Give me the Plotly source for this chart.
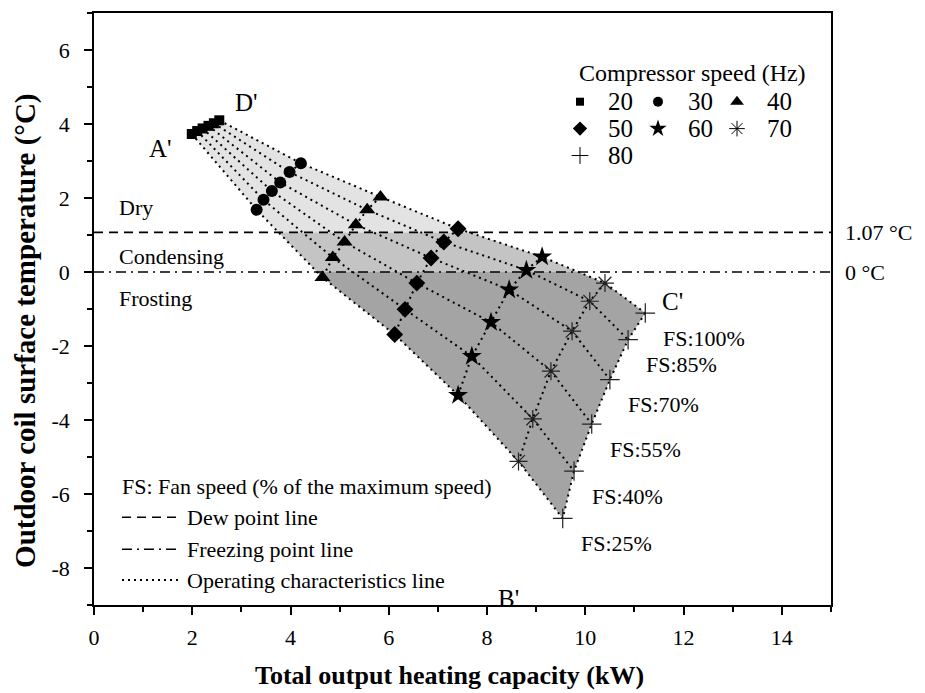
import plotly.graph_objects as go

# ---------------- data ----------------
COMP_SPEEDS = [20, 30, 40, 50, 60, 70, 80]          # Hz
FAN_LABELS = ["FS:100%", "FS:85%", "FS:70%", "FS:55%", "FS:40%", "FS:25%"]

# Total output heating capacity (kW) at each compressor speed, ordered FS:100% -> FS:25%
cap_20 = [2.55, 2.44, 2.33, 2.21, 2.10, 1.99]
cap_30 = [4.21, 3.98, 3.79, 3.62, 3.45, 3.31]
cap_40 = [5.83, 5.56, 5.33, 5.10, 4.86, 4.65]
cap_50 = [7.41, 7.12, 6.86, 6.57, 6.33, 6.12]
cap_60 = [9.12, 8.80, 8.45, 8.08, 7.69, 7.41]
cap_70 = [10.40, 10.09, 9.73, 9.30, 8.93, 8.64]
cap_80 = [11.22, 10.87, 10.50, 10.13, 9.77, 9.54]

# Outdoor coil surface temperature (deg C), same ordering
tmp_20 = [4.10, 4.02, 3.95, 3.88, 3.81, 3.73]
tmp_30 = [2.94, 2.70, 2.42, 2.19, 1.95, 1.68]
tmp_40 = [2.03, 1.68, 1.28, 0.81, 0.39, -0.15]
tmp_50 = [1.17, 0.81, 0.38, -0.30, -1.01, -1.69]
tmp_60 = [0.41, 0.05, -0.48, -1.36, -2.28, -3.33]
tmp_70 = [-0.30, -0.79, -1.60, -2.68, -3.97, -5.12]
tmp_80 = [-1.11, -1.83, -2.91, -4.11, -5.38, -6.66]

DEW_POINT = 1.07
FREEZE_POINT = 0.0

X_RANGE = [0, 15]
Y_RANGE = [-9, 7]
X_TICKS = [0, 2, 4, 6, 8, 10, 12, 14]
Y_TICKS = [-8, -6, -4, -2, 0, 2, 4, 6]

caps = [cap_20, cap_30, cap_40, cap_50, cap_60, cap_70, cap_80]
tmps = [tmp_20, tmp_30, tmp_40, tmp_50, tmp_60, tmp_70, tmp_80]

SYMBOLS = ["square", "circle", "triangle-up", "diamond", "star", "asterisk-open", "cross-thin-open"]
SIZES = [10, 12, 14, 13, 15, 15, 14]

FONT = "Liberation Serif"
W, H = 925, 693
M = dict(l=94, r=94, t=11, b=88)
PW = W - M["l"] - M["r"]
PH = H - M["t"] - M["b"]


def paper(px, py):
    """Page pixel position -> paper fraction."""
    return (px - M["l"]) / PW, (H - M["b"] - py) / PH


def clip_band(xs, ys, lo, hi):
    """Clip a closed polygon to the horizontal band lo <= y <= hi."""
    pts = list(zip(xs, ys))

    def clip(pts, inside, ycut):
        out = []
        n = len(pts)
        for i in range(n):
            p, q = pts[i], pts[(i + 1) % n]
            pin, qin = inside(p[1]), inside(q[1])
            if pin:
                out.append(p)
            if pin != qin:
                t = (ycut - p[1]) / (q[1] - p[1])
                out.append((p[0] + t * (q[0] - p[0]), ycut))
        return out

    pts = clip(pts, lambda y: y >= lo, lo)
    pts = clip(pts, lambda y: y <= hi, hi)
    return [p[0] for p in pts], [p[1] for p in pts]


fig = go.Figure()

# ---------------- operating envelope A'-B'-C'-D' ----------------
env_x = [c[-1] for c in caps] + cap_80[::-1][1:] + [c[0] for c in caps][::-1][1:] + cap_20[1:]
env_y = [t[-1] for t in tmps] + tmp_80[::-1][1:] + [t[0] for t in tmps][::-1][1:] + tmp_20[1:]

bands = [
    (DEW_POINT, Y_RANGE[1], "#e3e3e3"),
    (FREEZE_POINT, DEW_POINT, "#c4c4c4"),
    (Y_RANGE[0], FREEZE_POINT, "#a4a4a4"),
]
for lo, hi, col in bands:
    bx, by = clip_band(env_x, env_y, lo, hi)
    fig.add_trace(go.Scatter(x=bx, y=by, mode="lines", fill="toself", fillcolor=col,
                             line=dict(width=0), hoverinfo="skip", showlegend=False))

DASH = "9px,6px"
DASHDOT = "10px,5px,2px,5px"
DOT = "2px,4px"

# dew point and freezing point lines
fig.add_trace(go.Scatter(x=X_RANGE, y=[DEW_POINT, DEW_POINT], mode="lines",
                         line=dict(color="black", width=1.6, dash=DASH),
                         hoverinfo="skip", showlegend=False, cliponaxis=False))
fig.add_trace(go.Scatter(x=X_RANGE, y=[FREEZE_POINT, FREEZE_POINT], mode="lines",
                         line=dict(color="black", width=1.6, dash=DASHDOT),
                         hoverinfo="skip", showlegend=False, cliponaxis=False))

# operating characteristic lines: constant fan speed
for i in range(len(FAN_LABELS)):
    fig.add_trace(go.Scatter(x=[c[i] for c in caps], y=[t[i] for t in tmps], mode="lines",
                             line=dict(color="black", width=2, dash=DOT),
                             hoverinfo="skip", showlegend=False))
# operating characteristic lines: constant compressor speed
for c, t in zip(caps, tmps):
    fig.add_trace(go.Scatter(x=c, y=t, mode="lines",
                             line=dict(color="black", width=2, dash=DOT),
                             hoverinfo="skip", showlegend=False))

# markers per compressor speed
for hz, c, t, sym, sz in zip(COMP_SPEEDS, caps, tmps, SYMBOLS, SIZES):
    open_sym = sym.endswith("open")
    fig.add_trace(go.Scatter(
        x=c, y=t, mode="markers", name=f"{hz} Hz", showlegend=False,
        marker=dict(symbol=sym, size=sz, color="black" if not open_sym else "#222222",
                    line=dict(width=1.2 if open_sym else 0, color="#222222")),
    ))

# ---------------- custom legends (overlay axis in paper units) ----------------
leg_sym_x = [580, 658, 737]
leg_txt_x = [606, 686, 765]
leg_row_y = [100, 127, 154]
for k, (hz, sym, sz) in enumerate(zip(COMP_SPEEDS, SYMBOLS, SIZES)):
    r, col = divmod(k, 3)
    sx, sy = paper(leg_sym_x[col], leg_row_y[r])
    open_sym = sym.endswith("open")
    fig.add_trace(go.Scatter(
        x=[sx], y=[sy], xaxis="x2", yaxis="y2", mode="markers", showlegend=False,
        hoverinfo="skip", cliponaxis=False,
        marker=dict(symbol=sym, size=sz - 2, color="black",
                    line=dict(width=1 if open_sym else 0, color="black")),
    ))
    tx, ty = paper(leg_txt_x[col], leg_row_y[r])
    fig.add_annotation(x=tx, y=ty, xref="paper", yref="paper", text=str(hz),
                       showarrow=False, xanchor="left", yanchor="middle",
                       font=dict(family=FONT, size=25, color="black"))

tx, ty = paper(692, 71)
fig.add_annotation(x=tx, y=ty, xref="paper", yref="paper", text="Compressor speed (Hz)",
                   showarrow=False, xanchor="center", yanchor="middle",
                   font=dict(family=FONT, size=24, color="black"))

# line style legend
line_items = [
    ("Dew point line", DASH, 517),
    ("Freezing point line", DASHDOT, 549),
    ("Operating characteristics line", DOT, 580),
]
tx, ty = paper(120, 486)
fig.add_annotation(x=tx, y=ty, xref="paper", yref="paper",
                   text="FS: Fan speed (% of the maximum speed)", showarrow=False,
                   xanchor="left", yanchor="middle",
                   font=dict(family=FONT, size=22, color="black"))
for label, dash, py in line_items:
    x0, y0 = paper(122, py)
    x1, _ = paper(180, py)
    fig.add_trace(go.Scatter(x=[x0, x1], y=[y0, y0], xaxis="x2", yaxis="y2", mode="lines",
                             line=dict(color="black", width=2 if dash == DOT else 1.6, dash=dash),
                             hoverinfo="skip", showlegend=False))
    lx, _ = paper(185, py)
    fig.add_annotation(x=lx, y=y0, xref="paper", yref="paper", text=label, showarrow=False,
                       xanchor="left", yanchor="middle",
                       font=dict(family=FONT, size=22, color="black"))

# ---------------- region and point labels ----------------
for txt, yv in [("Dry", 1.73), ("Condensing", 0.41), ("Frosting", -0.72)]:
    fig.add_annotation(x=0.46, y=yv, text=txt, showarrow=False, xanchor="left",
                       yanchor="middle", font=dict(family=FONT, size=22, color="black"))

corner_font = dict(family=FONT, size=25, color="black")
fig.add_annotation(x=cap_20[-1], y=tmp_20[-1], text="A'", showarrow=False,
                   xanchor="right", yanchor="middle", xshift=-18, yshift=-15, font=corner_font)
fig.add_annotation(x=cap_20[0], y=tmp_20[0], text="D'", showarrow=False,
                   xanchor="left", yanchor="middle", xshift=14, yshift=18, font=corner_font)
fig.add_annotation(x=cap_80[0], y=tmp_80[0], text="C'", showarrow=False,
                   xanchor="left", yanchor="middle", xshift=15, yshift=12, font=corner_font)
fig.add_annotation(x=cap_80[-1], y=tmp_80[-1], text="B'", showarrow=False,
                   xanchor="right", yanchor="middle", xshift=-42, yshift=-80, font=corner_font)

for i, lab in enumerate(FAN_LABELS):
    fig.add_annotation(x=cap_80[i], y=tmp_80[i], text=lab, showarrow=False,
                       xanchor="left", yanchor="middle", xshift=16, yshift=-25,
                       font=dict(family=FONT, size=22, color="black"))

for txt, yv in [("1.07 °C", DEW_POINT), ("0 °C", FREEZE_POINT)]:
    fig.add_annotation(x=1, y=yv, xref="paper", yref="y", text=txt, showarrow=False,
                       xanchor="left", yanchor="middle", xshift=12,
                       font=dict(family=FONT, size=22, color="black"))

# axis titles
tx, ty = paper(449, 676)
fig.add_annotation(x=tx, y=ty, xref="paper", yref="paper",
                   text="<b>Total output heating capacity (kW)</b>", showarrow=False,
                   xanchor="center", yanchor="middle",
                   font=dict(family=FONT, size=26, color="black"))
tx, ty = paper(26, 330)
fig.add_annotation(x=tx, y=ty, xref="paper", yref="paper",
                   text="<b>Outdoor coil surface temperature (°C)</b>", showarrow=False,
                   textangle=-90, xanchor="center", yanchor="middle",
                   font=dict(family=FONT, size=29, color="black"))

tick_font = dict(family=FONT, size=22, color="black")
axis_common = dict(
    showline=True, linecolor="black", linewidth=1.6, mirror=True,
    ticks="outside", ticklen=8, tickwidth=1.6, tickcolor="black",
    showgrid=False, zeroline=False,
    minor=dict(ticks="outside", ticklen=5, tickwidth=1.6, tickcolor="black",
               dtick=1, tick0=0, showgrid=False),
)
fig.update_layout(
    width=W, height=H, margin=M,
    font=dict(family=FONT, size=22, color="black"),
    paper_bgcolor="white", plot_bgcolor="white",
    showlegend=False,
    xaxis=dict(range=X_RANGE, tickmode="array", tickvals=X_TICKS,
               ticktext=[str(v) for v in X_TICKS], ticklabelstandoff=4,
               tickfont=tick_font, **axis_common),
    yaxis=dict(range=Y_RANGE, tickmode="array", tickvals=Y_TICKS,
               ticktext=[str(v) for v in Y_TICKS], ticklabelstandoff=10,
               tickfont=tick_font, **axis_common),
    xaxis2=dict(domain=[0, 1], range=[0, 1], overlaying="x", visible=False, anchor="y2"),
    yaxis2=dict(domain=[0, 1], range=[0, 1], overlaying="y", visible=False, anchor="x2"),
)

fig.write_html("out.html")
